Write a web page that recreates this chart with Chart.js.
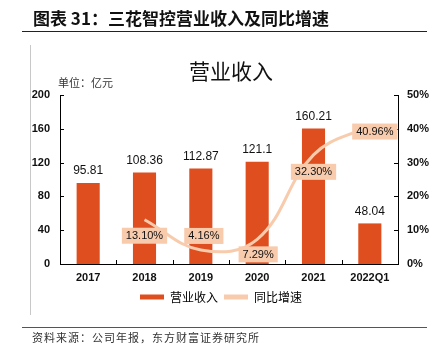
<!DOCTYPE html>
<html lang="zh">
<head>
<meta charset="UTF-8">
<title>三花智控营业收入及同比增速</title>
<script src="https://cdn.jsdelivr.net/npm/chart.js"></script>
<style>
  body { margin: 0; background: #fff; font-family: "Noto Sans CJK SC", sans-serif; }
  #wrap { position: relative; width: 442px; height: 353px; overflow: hidden; }
  #chart { position: absolute; left: 0; top: 0; }
  .txt { position: absolute; white-space: nowrap; line-height: 1; }
  #head { left: 33px; top: 9px; font-size: 17px; font-weight: 700; color: #111; }
  #headLine { position: absolute; left: 22px; top: 31px; width: 405px; height: 0; border-top: 1.5px solid #222; }
  #sideLine { position: absolute; left: 30px; top: 45px; width: 0; height: 270px; border-left: 1px solid #c8c8c8; }
  #ctitle { left: 189px; top: 60px; font-size: 21px; color: #111; }
  #unit { left: 58px; top: 77px; font-size: 11px; color: #333; }
  #footLine { position: absolute; left: 22px; top: 327px; width: 405px; height: 0; border-top: 1px solid #555; }
  #foot { left: 32px; top: 332px; font-size: 11px; letter-spacing: 1px; color: #333; }
</style>
</head>
<body>
<div id="wrap">
  <canvas id="chart" width="442" height="353"></canvas>
  <div class="txt" id="head">图表 31：三花智控营业收入及同比增速</div>
  <div id="headLine"></div>
  <div id="sideLine"></div>
  <div class="txt" id="ctitle">营业收入</div>
  <div class="txt" id="unit">单位：亿元</div>
  <div id="footLine"></div>
  <div class="txt" id="foot">资料来源：公司年报，东方财富证券研究所</div>
</div>
<script>
// 数据
const years = ['2017', '2018', '2019', '2020', '2021', '2022Q1'];
const revenue = [95.81, 108.36, 112.87, 121.1, 160.21, 48.04];
const growth = [null, 13.10, 4.16, 7.29, 32.30, 40.96];
const revenueLabels = ['95.81', '108.36', '112.87', '121.1', '160.21', '48.04'];
const growthLabels = ['', '13.10%', '4.16%', '7.29%', '32.30%', '40.96%'];

// 标签偏移 (像素)
const growthOffset = [[0, 0], [0, 16], [3, -14], [1, 15], [0, 17], [5, 6]];

const BAR = '#DF4E1E';
const LINE = '#F8CBAD';

const labelPlugin = {
  id: 'labelPlugin',
  afterDraw(chart) {
    const ctx = chart.ctx;
    const x = chart.scales.x, y = chart.scales.y, y1 = chart.scales.y1;
    const area = chart.chartArea;
    ctx.save();
    // 刻度线（向内）
    ctx.strokeStyle = '#000';
    ctx.lineWidth = 1;
    ctx.beginPath();
    const step = x.getPixelForValue(1) - x.getPixelForValue(0);
    for (let i = 1; i < years.length; i++) {
      const px = Math.round(x.getPixelForValue(i) - step / 2) + 0.5;
      ctx.moveTo(px, area.bottom);
      ctx.lineTo(px, area.bottom - 4);
    }
    y.ticks.forEach(t => {
      const py = Math.round(y.getPixelForValue(t.value)) + 0.5;
      ctx.moveTo(area.left, py);
      ctx.lineTo(area.left + 4, py);
    });
    y1.ticks.forEach(t => {
      const py = Math.round(y1.getPixelForValue(t.value)) + 0.5;
      ctx.moveTo(area.right, py);
      ctx.lineTo(area.right - 4, py);
    });
    ctx.stroke();

    // 柱子数值
    ctx.fillStyle = '#111';
    ctx.font = '12px "Liberation Sans", Arial, sans-serif';
    ctx.textAlign = 'center';
    ctx.textBaseline = 'middle';
    chart.getDatasetMeta(0).data.forEach((bar, i) => {
      ctx.fillText(revenueLabels[i], bar.x, bar.y - 12);
    });

    // 增速标签
    ctx.font = '11px "Liberation Sans", Arial, sans-serif';
    chart.getDatasetMeta(1).data.forEach((pt, i) => {
      if (growth[i] == null) return;
      const cx = pt.x + growthOffset[i][0];
      const cy = pt.y + growthOffset[i][1];
      const w = ctx.measureText(growthLabels[i]).width + 8;
      const h = 16;
      ctx.fillStyle = LINE;
      ctx.fillRect(cx - w / 2, cy - h / 2, w, h);
      ctx.fillStyle = '#111';
      ctx.fillText(growthLabels[i], cx, cy + 0.5);
    });
    ctx.restore();
  }
};

const tickFont = { family: '"Liberation Sans", Arial, sans-serif', size: 11, weight: 'bold' };

new Chart(document.getElementById('chart'), {
  data: {
    labels: years,
    datasets: [
      {
        type: 'bar',
        label: '营业收入',
        data: revenue,
        yAxisID: 'y',
        backgroundColor: BAR,
        borderWidth: 0,
        categoryPercentage: 1,
        barPercentage: 0.41,
        order: 2
      },
      {
        type: 'line',
        label: '同比增速',
        data: growth,
        yAxisID: 'y1',
        borderColor: LINE,
        backgroundColor: LINE,
        borderWidth: 3,
        pointRadius: 0,
        tension: 0.4,
        order: 1
      }
    ]
  },
  options: {
    responsive: false,
    devicePixelRatio: 1,
    animation: false,
    layout: { padding: { top: 95, bottom: 40, left: 0, right: 0 } },
    plugins: {
      title: { display: false },
      tooltip: { enabled: false },
      legend: {
        position: 'bottom',
        labels: {
          boxWidth: 24,
          boxHeight: 5,
          padding: 6,
          color: '#222',
          font: { family: '"Noto Sans CJK SC", sans-serif', size: 12 },
          generateLabels(chart) {
            return chart.data.datasets.map((d, i) => ({
              text: d.label,
              fillStyle: i === 0 ? BAR : LINE,
              strokeStyle: i === 0 ? BAR : LINE,
              lineWidth: 0,
              datasetIndex: i
            }));
          }
        }
      }
    },
    scales: {
      x: {
        grid: { display: false, drawTicks: false },
        border: { display: true, color: '#000', width: 1 },
        ticks: { color: '#111', font: tickFont, padding: 7 },
        afterFit(s) { s.height = 21; }
      },
      y: {
        position: 'left',
        min: 0, max: 200,
        grid: { display: false, drawTicks: false },
        border: { display: true, color: '#000', width: 1 },
        ticks: { stepSize: 40, color: '#111', font: tickFont, padding: 10 },
        afterFit(s) { s.width = 60; }
      },
      y1: {
        position: 'right',
        min: 0, max: 50,
        grid: { display: false, drawTicks: false },
        border: { display: true, color: '#000', width: 1 },
        ticks: { stepSize: 10, color: '#111', font: tickFont, padding: 9, callback: v => v + '%' },
        afterFit(s) { s.width = 44; }
      }
    }
  },
  plugins: [labelPlugin]
});
</script>
</body>
</html>
